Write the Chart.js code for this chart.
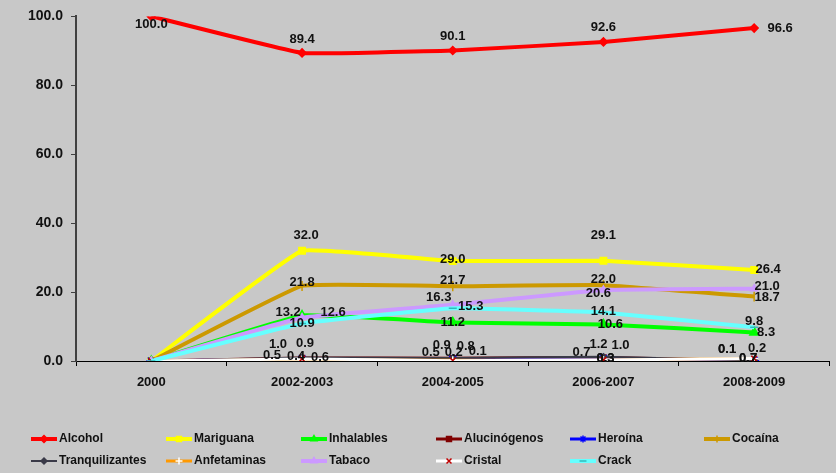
<!DOCTYPE html>
<html>
<head>
<meta charset="utf-8">
<script src="https://cdn.jsdelivr.net/npm/chart.js@4/dist/chart.umd.min.js"></script>
<style>
  html, body { margin: 0; padding: 0; background: #C8C8C8; }
  canvas { display: block; }
</style>
</head>
<body>
<canvas id="c" width="836" height="473"></canvas>
<script>
// ---- data ----
const categories = ["2000", "2002-2003", "2004-2005", "2006-2007", "2008-2009"];
const seriesNames = ["Alcohol", "Mariguana", "Inhalables", "Alucinógenos", "Heroína", "Cocaína",
                     "Tranquilizantes", "Anfetaminas", "Tabaco", "Cristal", "Crack"];
const alcohol        = [100.0, 89.4, 90.1, 92.6, 96.6];
const mariguana      = [0, 32.0, 29.0, 29.1, 26.4];
const inhalables     = [0, 13.2, 11.2, 10.6, 8.3];
const alucinogenos   = [0, 0.9, 0.8, 1.0, 0.1];
const heroina        = [0, 0.5, 0.5, 0.7, 0.1];
const cocaina        = [0, 21.8, 21.7, 22.0, 18.7];
const tranquilizantes= [0, 1.0, 0.9, 1.2, 0.2];
const anfetaminas    = [0, 0.4, 0.2, 0.3, 0.7];
const tabaco         = [0, 12.6, 16.3, 20.6, 21.0];
const cristal        = [0, 0.6, 0.1, 0.3, 0.7];
const crack          = [0, 10.9, 15.3, 14.1, 9.8];
const yTicks = [0, 20, 40, 60, 80, 100];

// ---- styles (label offsets relative to point, null = no label) ----
const styles = [
  {c:'#FF0000', w:4, ps:'rectRot', r:4, pb:'#FF0000', pf:'#FF0000', lab:[[0,8],[0,-14],[0,-14],[0,-14],[26,0]]},
  {c:'#FFFF00', w:4, ps:'rect', r:4.5, pb:'#FFFF00', pf:'#FFFF00', lab:[null,[4,-15],[0,-2],[0,-25],[14,-1]]},
  {c:'#00FF00', w:4, ps:'triangle', r:5, pb:'#00FF00', pf:'#00FF00', lab:[null,[-14,-3],[0,0],[7,0],[12,0]]},
  {c:'#800000', w:3, ps:'rect', r:3.5, pb:'#800000', pf:'#800000', lab:[null,[3,-14],[13,-12],[17,-12],[-27,-11]]},
  {c:'#0000FF', w:3, ps:'star', r:5, pb:'#0000FF', pf:'#0000FF', lab:[null,[-30,-4],[-22,-7],[-22,-6],[-27,-11]]},
  {c:'#CC9900', w:4, ps:'line', rot:90, r:5, pb:'#CC9900', pf:'#CC9900', lab:[null,[0,-3],[0,-6],[0,-6],[13,1]]},
  {c:'#3A3A48', w:2, ps:'rectRot', r:3, pb:'#3A3A48', pf:'#3A3A48', lab:[null,[-24,-13],[-11,-12],[-5,-12],[3,-12]]},
  {c:'#FF9900', w:3, ps:'cross', r:4, pb:'#FFFFFF', pf:'#FFFFFF', lab:[null,[-6,-3],[1,-8],[2,-2],[-6,0]]},
  {c:'#CC99FF', w:4, ps:'triangle', r:4, pb:'#CC99FF', pf:'#CC99FF', lab:[null,[31,-5],[-14,-7],[-5,3],[13,-2]]},
  {c:'#FFFFFF', w:3, ps:'crossRot', r:4, pb:'#C00000', pf:'#FFFFFF', lab:[null,[18,-2],[25,-9],[2,-2],[-6,0]]},
  {c:'#66FFFF', w:4, ps:'line', r:4, pb:'#33BBBB', pf:'#33BBBB', lab:[null,[0,0],[18,-2],[0,-1],[0,-6]]}
];
const values = [alcohol, mariguana, inhalables, alucinogenos, heroina, cocaina,
                tranquilizantes, anfetaminas, tabaco, cristal, crack];

const FONT = '"Liberation Sans", Arial, sans-serif';

const datasets = seriesNames.map((name, i) => ({
  label: name,
  data: values[i],
  borderColor: styles[i].c,
  backgroundColor: styles[i].pf,
  borderWidth: styles[i].w,
  pointStyle: styles[i].ps,
  pointRotation: styles[i].rot || 0,
  pointRadius: styles[i].r,
  pointBorderColor: styles[i].pb,
  pointBackgroundColor: styles[i].pf,
  pointBorderWidth: 1.5,
  tension: 0.08,
  order: seriesNames.length - 1 - i
}));

const labelPlugin = {
  id: 'labels',
  afterDatasetsDraw(chart) {
    const ctx = chart.ctx;
    ctx.save();
    ctx.font = 'bold 13px ' + FONT;
    ctx.fillStyle = '#111';
    ctx.textAlign = 'center';
    ctx.textBaseline = 'middle';
    chart.data.datasets.forEach((ds, i) => {
      const meta = chart.getDatasetMeta(i);
      meta.data.forEach((pt, j) => {
        const off = styles[i].lab[j];
        if (!off) return;
        ctx.fillText(ds.data[j].toFixed(1), pt.x + off[0], pt.y + off[1]);
      });
    });
    ctx.restore();
  }
};

const legendPlugin = {
  id: 'customLegend',
  afterDraw(chart) {
    const ctx = chart.ctx;
    const colX = [31, 166, 301, 436, 570, 704];
    const rowY = [439, 461];
    ctx.save();
    ctx.font = 'bold 12px ' + FONT;
    ctx.textBaseline = 'middle';
    ctx.textAlign = 'left';
    seriesNames.forEach((name, i) => {
      const x = colX[i % 6], y = rowY[Math.floor(i / 6)];
      const s = styles[i];
      ctx.strokeStyle = s.c;
      ctx.lineWidth = s.w;
      ctx.beginPath();
      ctx.moveTo(x, y); ctx.lineTo(x + 26, y);
      ctx.stroke();
      ctx.fillStyle = s.pf;
      ctx.strokeStyle = s.pb;
      ctx.lineWidth = 1.5;
      Chart.helpers.drawPoint(ctx, {pointStyle: s.ps, rotation: s.rot || 0, radius: Math.min(s.r, 3.5), borderWidth: 1.5}, x + 13, y);
      ctx.fillStyle = '#111';
      ctx.fillText(name, x + 28, y);
    });
    ctx.restore();
  }
};

new Chart(document.getElementById('c'), {
  type: 'line',
  data: { labels: categories, datasets },
  options: {
    responsive: false,
    animation: false,
    events: [],
    layout: { padding: { top: 16, right: 5, left: 0, bottom: 0 } },
    plugins: { legend: { display: false }, tooltip: { enabled: false } },
    scales: {
      x: {
        type: 'category',
        offset: true,
        grid: { display: true, drawOnChartArea: false, drawTicks: true, tickLength: 5, offset: true, color: '#000' },
        border: { color: '#000', width: 1 },
        ticks: { color: '#111', font: { family: FONT, size: 13, weight: 'bold' }, padding: 9, maxRotation: 0 },
        afterFit(scale) { scale.height = 112; }
      },
      y: {
        min: 0, max: 100,
        afterBuildTicks(scale) { scale.ticks = yTicks.map(v => ({ value: v })); },
        grid: { display: true, drawOnChartArea: false, drawTicks: true, tickLength: 5, color: '#404040' },
        border: { color: '#404040', width: 2 },
        ticks: { color: '#111', font: { family: FONT, size: 14, weight: 'bold' }, padding: 8,
                 callback: v => Number(v).toFixed(1) },
        afterFit(scale) { scale.width = 76; }
      }
    }
  },
  plugins: [labelPlugin, legendPlugin]
});
</script>
</body>
</html>
